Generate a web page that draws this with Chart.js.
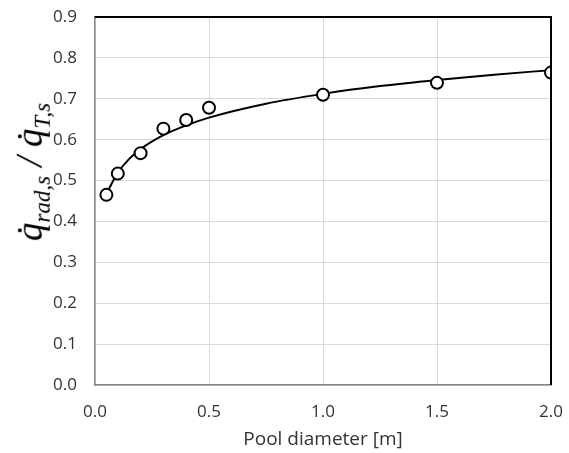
<!DOCTYPE html>
<html>
<head>
<meta charset="utf-8">
<script src="https://cdn.jsdelivr.net/npm/chart.js@4"></script>
<style>
  body { margin: 0; background: #fff; }
  #wrap { position: relative; width: 569px; height: 453px; }
  #ytitle {
    position: absolute;
    left: 32px;
    top: 172px;
    transform: translate(-50%, -50%) rotate(-90deg);
    font-family: "Liberation Serif", serif;
    font-style: italic;
    font-size: 37px;
    white-space: nowrap;
    color: #000;
  }
  #ytitle sub { font-size: 23px; }
</style>
</head>
<body>
<div id="wrap">
  <canvas id="chart" width="569" height="453"></canvas>
  <div id="ytitle">q&#775;<sub>rad,s</sub> / q&#775;<sub>T,s</sub></div>
</div>
<script>
// measured points
const poolDiameter = [0.05, 0.1, 0.2, 0.3, 0.4, 0.5, 1.0, 1.5, 2.0];
const radFraction = [0.465, 0.517, 0.567, 0.627, 0.648, 0.678, 0.71, 0.739, 0.764];

// fitted curve
const fitDiameter = [0.05, 0.1, 0.15, 0.2, 0.3, 0.4, 0.5, 0.75, 1.0, 1.25, 1.5, 1.75, 2.0];
const fitFraction = [0.468, 0.519, 0.553, 0.577, 0.611, 0.635, 0.654, 0.688, 0.712, 0.731, 0.746, 0.759, 0.770];

const xTicks = [0, 0.5, 1.0, 1.5, 2.0];

const tickFont = { family: "'Open Sans', sans-serif", size: 17 };

// black frame on top and right side
const frameLines = {
  id: "frameLines",
  afterDraw(chart) {
    const { ctx, chartArea } = chart;
    ctx.save();
    ctx.strokeStyle = "#000";
    ctx.lineWidth = 2;
    ctx.beginPath();
    ctx.moveTo(chartArea.left, chartArea.top);
    ctx.lineTo(chartArea.right, chartArea.top);
    ctx.lineTo(chartArea.right, chartArea.bottom);
    ctx.stroke();
    ctx.restore();
  },
};

new Chart(document.getElementById("chart"), {
  type: "scatter",
  data: {
    datasets: [
      {
        label: "fit",
        data: fitDiameter.map((x, i) => ({ x: x, y: fitFraction[i] })),
        showLine: true,
        borderColor: "#000",
        borderWidth: 2,
        pointRadius: 0,
        cubicInterpolationMode: "monotone",
        order: 2,
      },
      {
        label: "measured",
        data: poolDiameter.map((x, i) => ({ x: x, y: radFraction[i] })),
        pointStyle: "circle",
        pointRadius: 6,
        borderWidth: 2,
        borderColor: "#000",
        backgroundColor: "#fff",
        order: 1,
      },
    ],
  },
  options: {
    responsive: false,
    animation: false,
    layout: { padding: { top: 17, right: 18, left: 0, bottom: 0 } },
    plugins: { legend: { display: false }, tooltip: { enabled: false } },
    scales: {
      x: {
        type: "linear",
        min: 0,
        max: 2,
        afterBuildTicks: (scale) => {
          scale.ticks = xTicks.map((v) => ({ value: v }));
        },
        afterFit: (scale) => {
          scale.height = 68;
          scale.paddingLeft = 0;
          scale.paddingRight = 0;
        },
        ticks: {
          font: tickFont,
          color: "#333",
          padding: 17,
          maxRotation: 0,
          callback: (v) => Number(v).toFixed(1),
        },
        grid: { color: "#d9d9d9", lineWidth: 1, drawTicks: false },
        border: { color: "#868686", width: 1.5 },
        title: {
          display: true,
          text: "Pool diameter [m]",
          font: { family: "'Open Sans', sans-serif", size: 19 },
          color: "#333",
          padding: { top: 4, bottom: 2 },
        },
      },
      y: {
        min: 0,
        max: 0.9,
        afterFit: (scale) => {
          scale.width = 95;
          scale.paddingTop = 0;
          scale.paddingBottom = 0;
        },
        ticks: {
          stepSize: 0.1,
          font: tickFont,
          color: "#333",
          padding: 18,
          callback: (v) => Number(v).toFixed(1),
        },
        grid: { color: "#d9d9d9", lineWidth: 1, drawTicks: false },
        border: { color: "#868686", width: 1.5 },
      },
    },
  },
  plugins: [frameLines],
});
</script>
</body>
</html>
